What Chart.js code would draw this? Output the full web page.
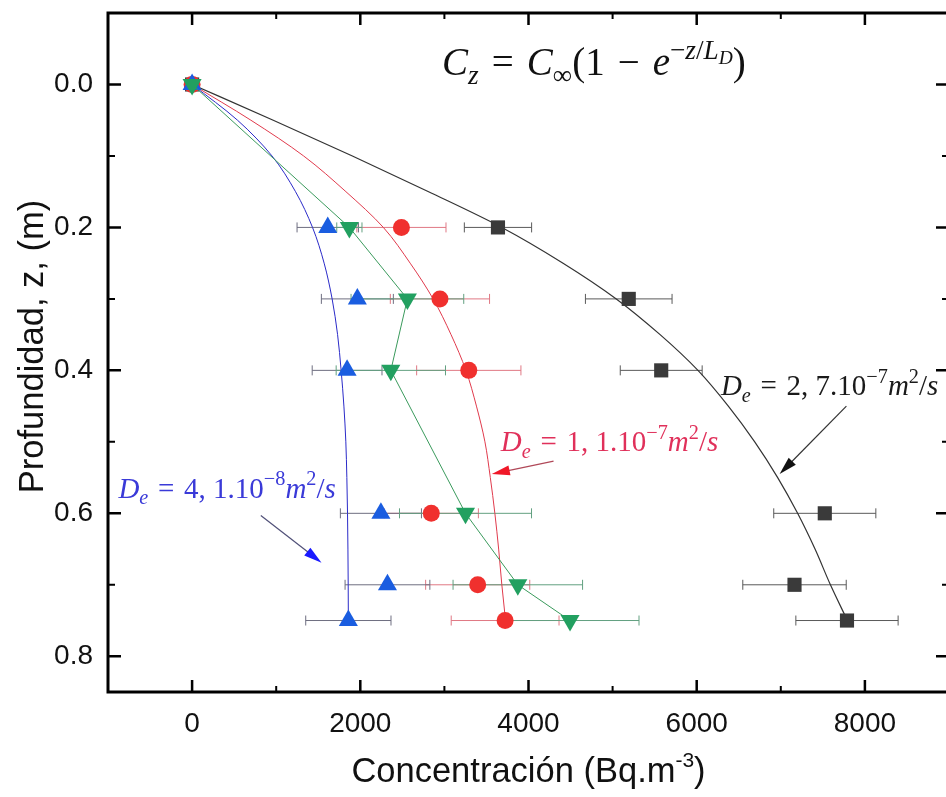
<!DOCTYPE html>
<html><head><meta charset="utf-8">
<script src="https://cdn.jsdelivr.net/npm/chart.js@4"></script>
<style>
html,body{margin:0;padding:0;overflow:hidden;background:#fff;}
#wrap{width:960px;height:797px;position:relative;}
</style></head><body>
<div id="wrap"><canvas id="c"></canvas></div>
<script>
// ---- data ----
const depths = [0, 0.2, 0.3, 0.4, 0.6, 0.7, 0.75];
const concBlack = [0, 3637, 5192, 5578, 7523, 7163, 7787];
const errBlack  = [0, 400, 515, 487, 607, 615, 608];
const concRed   = [0, 2489, 2947, 3290, 2844, 3396, 3722];
const errRed    = [0, 530, 590, 620, 560, 619, 641];
const concBlue  = [0, 1613, 1965, 1843, 2245, 2323, 1858];
const errBlue   = [0, 365, 428, 415, 482, 504, 507];
const concGreen = [0, 1870, 2560, 2363, 3251, 3873, 4494];
const errGreen  = [0, 150, 670, 650, 785, 770, 820];

const fitDepths = [0, 0.05, 0.1, 0.15, 0.2, 0.25, 0.3, 0.35, 0.4, 0.45, 0.5, 0.55, 0.6, 0.65, 0.7, 0.75];
const fitBlack  = [0, 965, 1906, 2812, 3683, 4411, 5044, 5565, 6015, 6376, 6690, 6963, 7200, 7407, 7590, 7792];
const fitRed    = [0, 699, 1326, 1829, 2274, 2593, 2866, 3079, 3256, 3381, 3482, 3546, 3600, 3645, 3683, 3727];
const fitBlue   = [0, 540, 950, 1230, 1432, 1570, 1665, 1730, 1772, 1805, 1828, 1840, 1848, 1853, 1856, 1858];

const xTicks = [0, 2000, 4000, 6000, 8000];
const xMinor = [1000, 3000, 5000, 7000];
const yTicks = [0.0, 0.2, 0.4, 0.6, 0.8];
const yMinor = [0.1, 0.3, 0.5, 0.7];

const xTitle = 'Concentración (Bq.m';
const xTitleSup = '-3';
const yTitle = 'Profundidad, z, (m)';

// annotations (data coordinates)
const formulaPos = {x: 2972, y: -0.0126};
const labelBlackPos = {x: 6288, y: 0.435};
const labelRedPos = {x: 3671, y: 0.513};
const labelBluePos = {x: -876, y: 0.578};
const arrowBlack = [[7780, 0.450], [6986, 0.545]];
const arrowRed = [[4298, 0.527], [3564, 0.545]];
const arrowBlue = [[817, 0.603], [1539, 0.669]];

const pts = (xs, ys) => xs.map((v, i) => ({x: v, y: ys[i]}));
const SANS = "'Liberation Sans', Arial, sans-serif";
const SERIF = "'Liberation Serif', 'Times New Roman', serif";
const SP = '\u2004';

function drawRich(ctx, x, y, parts, S, color) {
  let cx = x;
  ctx.save();
  ctx.fillStyle = color;
  ctx.textBaseline = 'alphabetic';
  ctx.textAlign = 'left';
  parts.forEach(p => {
    const t = p[0], lvl = p[1] || 0, it = p[2];
    let size = S, dy = 0;
    if (lvl === 1) { size = S * 0.7; dy = -S * 0.42; }
    else if (lvl === -1) { size = S * 0.7; dy = S * 0.22; }
    else if (lvl === 2) { size = S * 0.5; dy = -S * 0.30; }
    ctx.font = (it ? 'italic ' : '') + size + 'px ' + SERIF;
    ctx.fillText(t, cx, y + dy);
    cx += ctx.measureText(t).width;
  });
  ctx.restore();
}

function arrow(ctx, x, y, a, lineCol, headCol) {
  const x1 = x.getPixelForValue(a[0][0]), y1 = y.getPixelForValue(a[0][1]);
  const x2 = x.getPixelForValue(a[1][0]), y2 = y.getPixelForValue(a[1][1]);
  const ang = Math.atan2(y2 - y1, x2 - x1);
  const L = 18, W = 5;
  ctx.save();
  ctx.strokeStyle = lineCol; ctx.lineWidth = 1.2;
  ctx.beginPath(); ctx.moveTo(x1, y1);
  ctx.lineTo(x2 - Math.cos(ang) * L * 0.8, y2 - Math.sin(ang) * L * 0.8); ctx.stroke();
  ctx.fillStyle = headCol;
  ctx.beginPath();
  ctx.moveTo(x2, y2);
  ctx.lineTo(x2 - Math.cos(ang) * L - Math.sin(ang) * W, y2 - Math.sin(ang) * L + Math.cos(ang) * W);
  ctx.lineTo(x2 - Math.cos(ang) * L + Math.sin(ang) * W, y2 - Math.sin(ang) * L - Math.cos(ang) * W);
  ctx.closePath(); ctx.fill();
  ctx.restore();
}

const deco = {
  id: 'deco',
  beforeDatasetsDraw(chart) {
    const {ctx, scales: {x, y}} = chart;
    const groups = [
      [concBlack, errBlack, '#5a5a5a'],
      [concRed, errRed, '#e07884'],
      [concBlue, errBlue, '#6e6e80'],
      [concGreen, errGreen, '#62a080']
    ];
    ctx.save(); ctx.lineWidth = 1;
    groups.forEach(([c, e, col]) => {
      ctx.strokeStyle = col;
      c.forEach((v, i) => {
        if (!e[i]) return;
        const py = y.getPixelForValue(depths[i]);
        const x1 = x.getPixelForValue(v - e[i]), x2 = x.getPixelForValue(v + e[i]);
        ctx.beginPath();
        ctx.moveTo(x1, py); ctx.lineTo(x2, py);
        ctx.moveTo(x1, py - 5); ctx.lineTo(x1, py + 5);
        ctx.moveTo(x2, py - 5); ctx.lineTo(x2, py + 5);
        ctx.stroke();
      });
    });
    ctx.restore();
  },
  afterDraw(chart) {
    const {ctx, chartArea: a, scales: {x, y}} = chart;
    ctx.save();
    ctx.strokeStyle = '#000'; ctx.lineWidth = 3;
    ctx.strokeRect(a.left, a.top, a.right - a.left, a.bottom - a.top);
    const tick = (len, lw, vals, axis) => {
      ctx.lineWidth = lw; ctx.beginPath();
      vals.forEach(v => {
        if (axis === 'x') {
          const p = x.getPixelForValue(v);
          ctx.moveTo(p, a.bottom); ctx.lineTo(p, a.bottom - len);
          ctx.moveTo(p, a.top); ctx.lineTo(p, a.top + len);
        } else {
          const p = y.getPixelForValue(v);
          ctx.moveTo(a.left, p); ctx.lineTo(a.left + len, p);
          ctx.moveTo(a.right, p); ctx.lineTo(a.right - len, p);
        }
      });
      ctx.stroke();
    };
    tick(12, 2.5, xTicks, 'x'); tick(6, 2, xMinor, 'x');
    tick(13, 2.5, yTicks, 'y'); tick(7, 2, yMinor, 'y');

    // axis titles
    ctx.fillStyle = '#111';
    const TS = 34.5;
    ctx.font = TS + 'px ' + SANS;
    const w1 = ctx.measureText(xTitle).width;
    ctx.font = '21px ' + SANS;
    const w2 = ctx.measureText(xTitleSup).width;
    ctx.font = TS + 'px ' + SANS;
    const w3 = ctx.measureText(')').width;
    const sx = (a.left + a.right) / 2 - (w1 + w2 + w3) / 2;
    const by = 782;
    ctx.textBaseline = 'alphabetic'; ctx.textAlign = 'left';
    ctx.fillText(xTitle, sx, by);
    ctx.font = '21px ' + SANS; ctx.fillText(xTitleSup, sx + w1, by - 15);
    ctx.font = TS + 'px ' + SANS; ctx.fillText(')', sx + w1 + w2, by);

    ctx.save();
    ctx.translate(43, (a.top + a.bottom) / 2 - 6);
    ctx.rotate(-Math.PI / 2);
    ctx.textAlign = 'center';
    ctx.font = TS + 'px ' + SANS;
    ctx.fillText(yTitle, 0, 0);
    ctx.restore();

    drawRich(ctx, x.getPixelForValue(formulaPos.x), y.getPixelForValue(formulaPos.y), [
      ['C', 0, 1], ['z', -1, 1], [SP + '=' + SP, 0, 0], ['C', 0, 1], ['\u221E', -1, 0], ['(1' + SP + '\u2212' + SP, 0, 0],
      ['e', 0, 1], ['\u2212', 1, 0], ['z', 1, 1], ['/', 1, 0], ['L', 1, 1], ['D', 2, 1], [')', 0, 0]
    ], 39, '#111');

    const deParts = (num, exp) => [
      ['D', 0, 1], ['e', -1, 1], [SP + '=' + SP + num, 0, 0], ['\u2212' + exp, 1, 0],
      ['m', 0, 1], ['2', 1, 0], ['/', 0, 0], ['s', 0, 1]
    ];
    drawRich(ctx, x.getPixelForValue(labelBlackPos.x), y.getPixelForValue(labelBlackPos.y), deParts('2, 7.10', '7'), 29, '#1a1a1a');
    drawRich(ctx, x.getPixelForValue(labelRedPos.x), y.getPixelForValue(labelRedPos.y), deParts('1, 1.10', '7'), 29, '#e0305a');
    drawRich(ctx, x.getPixelForValue(labelBluePos.x), y.getPixelForValue(labelBluePos.y), deParts('4, 1.10', '8'), 29, '#3a3ad8');

    arrow(ctx, x, y, arrowBlack, '#333', '#111');
    arrow(ctx, x, y, arrowRed, '#b04858', '#f01828');
    arrow(ctx, x, y, arrowBlue, '#505078', '#1a1aff');
    ctx.restore();
  }
};

const curve = (label, xs, col, w, ord) => ({
  type: 'line', label, data: pts(xs, fitDepths), indexAxis: 'y', cubicInterpolationMode: 'monotone',
  borderColor: col, borderWidth: w, pointRadius: 0, fill: false, order: ord
});

new Chart(document.getElementById('c'), {
  type: 'scatter',
  data: {
    datasets: [
      curve('fit black', fitBlack, '#333', 1.2, 10),
      curve('fit red', fitRed, '#e03a4c', 1, 11),
      curve('fit blue', fitBlue, '#2a2ac8', 1, 12),
      {label: 'green', data: pts(concGreen, depths), showLine: true, borderColor: '#3a9a5c', borderWidth: 1, tension: 0,
        pointStyle: 'triangle', pointRotation: 180, pointRadius: 11, pointBackgroundColor: '#22a060', pointBorderColor: '#22a060', pointBorderWidth: 0, order: 1},
      {label: 'blue', data: pts(concBlue, depths), pointStyle: 'triangle', pointRadius: 11,
        backgroundColor: '#1a5de0', borderColor: '#1a5de0', pointBorderWidth: 0, order: 2},
      {label: 'red', data: pts(concRed, depths), pointStyle: 'circle', pointRadius: 8.5,
        backgroundColor: '#f0302e', borderColor: '#f0302e', pointBorderWidth: 0, order: 3},
      {label: 'black', data: pts(concBlack, depths), pointStyle: 'rect', pointRadius: 10,
        backgroundColor: '#3a3a3a', borderColor: '#3a3a3a', pointBorderWidth: 0, order: 4}
    ]
  },
  options: {
    responsive: true, maintainAspectRatio: false, animation: false, events: [],
    layout: {padding: {left: 0, top: 13, right: 8, bottom: 0}},
    plugins: {legend: {display: false}, tooltip: {enabled: false}},
    scales: {
      x: {
        type: 'linear', min: -1000, max: 9000,
        grid: {display: false, drawTicks: false}, border: {display: false},
        afterBuildTicks: s => { s.ticks = xTicks.map(v => ({value: v})); },
        afterFit: s => { s.height = 105; s.paddingLeft = 0; s.paddingRight = 0; },
        ticks: {padding: 15, color: '#111', font: {family: SANS, size: 28}, callback: v => String(v), maxRotation: 0}
      },
      y: {
        type: 'linear', reverse: true, min: -0.1, max: 0.85,
        grid: {display: false, drawTicks: false}, border: {display: false},
        afterBuildTicks: s => { s.ticks = yTicks.map(v => ({value: v})); },
        afterFit: s => { s.width = 108; s.paddingTop = 0; s.paddingBottom = 0; },
        ticks: {padding: 15, color: '#111', font: {family: SANS, size: 28}, callback: v => Number(v).toFixed(1)}
      }
    }
  },
  plugins: [deco]
});
</script>
</body></html>
